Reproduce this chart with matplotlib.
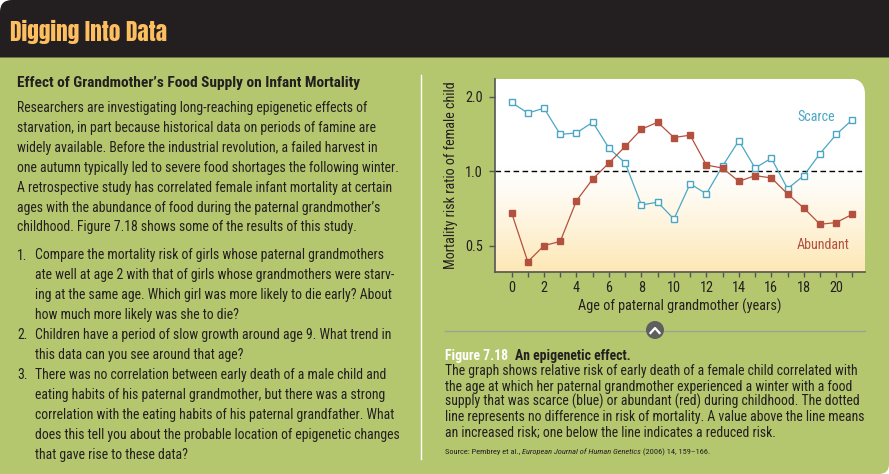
import matplotlib
matplotlib.use("Agg")
import matplotlib.pyplot as plt
import numpy as np
from matplotlib.path import Path
from matplotlib.patches import PathPatch, Circle
from matplotlib.lines import Line2D
import matplotlib.transforms as mtransforms
from matplotlib.ticker import NullLocator

BODY_FONTS = ['Roboto Condensed', 'Liberation Sans Narrow', 'Arial Narrow', 'PT Sans Narrow',
              'Archivo Narrow', 'Open Sans Condensed', 'Liberation Sans', 'DejaVu Sans']
HEAD_FONTS = ['Anton', 'Oswald', 'Roboto Condensed', 'Liberation Sans Narrow', 'DejaVu Sans']
plt.rcParams['font.family'] = BODY_FONTS

# --- data ---
ages = list(range(22))
scarce = [1.90, 1.72, 1.80, 1.41, 1.43, 1.58, 1.24, 1.08, 0.73, 0.75, 0.64,
          0.89, 0.81, 1.05, 1.33, 1.03, 1.13, 0.85, 0.96, 1.18, 1.41, 1.62]
abundant = [0.68, 0.43, 0.50, 0.52, 0.76, 0.93, 1.08, 1.26, 1.48, 1.58, 1.37,
            1.40, 1.06, 1.03, 0.91, 0.96, 0.94, 0.81, 0.71, 0.61, 0.62, 0.67]
ytick_vals = [0.5, 1.0, 2.0]
ytick_labels = ['0.5', '1.0', '2.0']
xtick_labels = [str(a) if a % 2 == 0 else '' for a in ages]
xlabel = 'Age of paternal grandmother (years)'
ylabel = 'Mortality risk ratio of female child'

header = "Digging Into Data"
box_title = "Effect of Grandmother\u2019s Food Supply on Infant Mortality"
intro = [
    "Researchers are investigating long-reaching epigenetic effects of",
    "starvation, in part because historical data on periods of famine are",
    "widely available. Before the industrial revolution, a failed harvest in",
    "one autumn typically led to severe food shortages the following winter.",
    "A retrospective study has correlated female infant mortality at certain",
    "ages with the abundance of food during the paternal grandmother\u2019s",
    "childhood. Figure 7.18 shows some of the results of this study.",
]
questions = [
    ("1.", ["Compare the mortality risk of girls whose paternal grandmothers",
            "ate well at age 2 with that of girls whose grandmothers were starv-",
            "ing at the same age. Which girl was more likely to die early? About",
            "how much more likely was she to die?"]),
    ("2.", ["Children have a period of slow growth around age 9. What trend in",
            "this data can you see around that age?"]),
    ("3.", ["There was no correlation between early death of a male child and",
            "eating habits of his paternal grandmother, but there was a strong",
            "correlation with the eating habits of his paternal grandfather. What",
            "does this tell you about the probable location of epigenetic changes",
            "that gave rise to these data?"]),
]
fig_no = 'Figure 7.18'
fig_title = 'An epigenetic effect.'
caption = [
    "The graph shows relative risk of early death of a female child correlated with",
    "the age at which her paternal grandmother experienced a winter with a food",
    "supply that was scarce (blue) or abundant (red) during childhood. The dotted",
    "line represents no difference in risk of mortality. A value above the line means",
    "an increased risk; one below the line indicates a reduced risk.",
]
source = ['Source: Pembrey et al., ', 'European Journal of Human Genetics',
          ' (2006) 14, 159\u2013166.']

W, H = 889, 474
GREEN = '#b5c76e'
DARK = '#231f20'
BLUE = '#4aa7c4'
RED = '#b3513e'

fig = plt.figure(figsize=(W / 100, H / 100), dpi=100, facecolor='white')
r = fig.canvas.get_renderer()
# pixel coords, y measured downward from the top
px = mtransforms.Affine2D().scale(1 / W, -1 / H).translate(0, 1) + fig.transFigure


def rpath(x0, y0, x1, y1, tl=0, tr=0, br=0, bl=0):
    v = [(x0 + tl, y0), (x1 - tr, y0), (x1, y0), (x1, y0 + tr),
         (x1, y1 - br), (x1, y1), (x1 - br, y1),
         (x0 + bl, y1), (x0, y1), (x0, y1 - bl),
         (x0, y0 + tl), (x0, y0), (x0 + tl, y0), (x0 + tl, y0)]
    c = [Path.MOVETO, Path.LINETO, Path.CURVE3, Path.CURVE3,
         Path.LINETO, Path.CURVE3, Path.CURVE3,
         Path.LINETO, Path.CURVE3, Path.CURVE3,
         Path.LINETO, Path.CURVE3, Path.CURVE3, Path.CLOSEPOLY]
    return Path(v, c)


def T(x, y, s, **kw):
    kw.setdefault('color', DARK)
    kw.setdefault('va', 'baseline')
    return fig.text(x / W, 1 - y / H, s, **kw)


def fit(s, width, **kw):
    # font size that makes s about `width` pixels wide
    t = fig.text(0, 0, s, fontsize=10, **kw)
    w = t.get_window_extent(r).width
    t.remove()
    return 10 * width / w


body_fs = fit(intro[3], 381)
title_fs = fit(box_title, 344, fontweight='bold')
head_fs = fit(header, 158, fontweight='bold', family=HEAD_FONTS)
cap_fs = fit(caption[0], 413)
capb_fs = fit(fig_title, 116, fontweight='bold')
src_fs = fit(''.join(source), 268)
xl_fs = fit(xlabel, 204)
yl_fs = fit(ylabel, 188)
lab_fs = fit('Abundant', 53)

# page background + header band
fig.patches.append(PathPatch(rpath(0, 57, W, H, br=10), transform=px,
                             facecolor=GREEN, edgecolor='none', zorder=-2))
fig.patches.append(PathPatch(rpath(0, 0, W, 57.5, tl=12), transform=px,
                             facecolor=DARK, edgecolor='none', zorder=-1))
T(10, 40.5, header, fontsize=head_fs, fontweight='bold', color='#fdbe5f',
  family=HEAD_FONTS)

# left column
T(17, 87, box_title, fontsize=title_fs, fontweight='bold')
y = 112.3
for line in intro:
    T(17, y, line, fontsize=body_fs)
    y += 19.85
y = 259.5
for num, lines in questions:
    T(17, y, num, fontsize=body_fs)
    for line in lines:
        T(35, y, line, fontsize=body_fs)
        y += 19.95
fig.lines.append(Line2D([421, 421], [75, 459], transform=px, color='white', lw=1))

# chart
L, R, TOP, BOT = 494.5, 865, 78.5, 271.7
pos = [L / W, 1 - BOT / H, (R - L) / W, (BOT - TOP) / H]

bg = fig.add_axes(pos, zorder=0)
grad = np.ones((200, 1, 3))
t = np.linspace(0, 1, 200)  # 0 top, 1 bottom
k = (np.clip((t - 0.45) / 0.55, 0, 1) ** 1.3)[:, None]
cream = np.array([253, 231, 180]) / 255
grad[:, 0, :] = (1 - k) + k * cream
im = bg.imshow(grad, extent=[0, 1, 0, 1], aspect='auto', interpolation='bilinear')
im.set_clip_path(PathPatch(rpath(L, TOP, R, BOT, tr=16), transform=px))
bg.set_xlim(0, 1)
bg.set_ylim(0, 1)
bg.axis('off')

ax = fig.add_axes(pos, zorder=1)
ax.patch.set_visible(False)
ax.set_yscale('log', base=2)
ax.plot(ages, scarce, color=BLUE, lw=0.9, marker='s', ms=4.2,
        mfc='white', mec=BLUE, mew=1.0, zorder=3)
ax.plot(ages, abundant, color=RED, lw=0.9, marker='s', ms=4.2,
        mfc=RED, mec=RED, zorder=3)
ax.axhline(1.0, color='black', lw=1, ls=(0, (4, 2.5)), zorder=2)
ax.set_xlim(-1.05, 21.77)
ax.set_ylim(0.392, 2.375)
ax.set_yticks(ytick_vals)
ax.set_yticklabels(ytick_labels)
ax.yaxis.set_minor_locator(NullLocator())
ax.set_xticks(ages)
ax.set_xticklabels(xtick_labels)
for s in ['top', 'right']:
    ax.spines[s].set_visible(False)
for s in ['left', 'bottom']:
    ax.spines[s].set_color('#555555')
    ax.spines[s].set_linewidth(1.2)
ax.tick_params(axis='y', length=4, width=1, color='#555555', pad=4.5,
               labelsize=xl_fs, labelcolor=DARK)
ax.tick_params(axis='x', length=3.5, width=1, color='#555555', pad=3,
               labelsize=xl_fs, labelcolor=DARK)
ax.set_xlabel(xlabel, fontsize=xl_fs, color=DARK, labelpad=3)
ax.set_ylabel(ylabel, fontsize=yl_fs, color=DARK, labelpad=5)
ax.text(17.58, 1.66, 'Scarce', color=BLUE, fontsize=lab_fs, va='center')
ax.text(17.58, 0.502, 'Abundant', color=RED, fontsize=lab_fs, va='center')

# caption area
fig.lines.append(Line2D([445, 865], [331, 331], transform=px, color='#9aa394', lw=1))
fig.patches.append(Circle((655, 330), 9, transform=px, facecolor='#5f5f5f',
                          edgecolor='none', zorder=3))
fig.lines.append(Line2D([650.5, 655, 659.5], [333, 328, 333], transform=px,
                        color='white', lw=1.6, zorder=4))

t1 = T(445, 360, fig_no, fontsize=capb_fs, fontweight='bold', color='white')
x1 = t1.get_window_extent(r).x1
T(x1 + 7, 360, fig_title, fontsize=capb_fs, fontweight='bold')
y = 375
for line in caption:
    T(445, y, line, fontsize=cap_fs)
    y += 15.5

x = 445
for i, part in enumerate(source):
    st = T(x, 454.3, part, fontsize=src_fs, style='italic' if i == 1 else 'normal')
    x = st.get_window_extent(r).x1

fig.savefig('out.png', dpi=100, facecolor=fig.get_facecolor())
